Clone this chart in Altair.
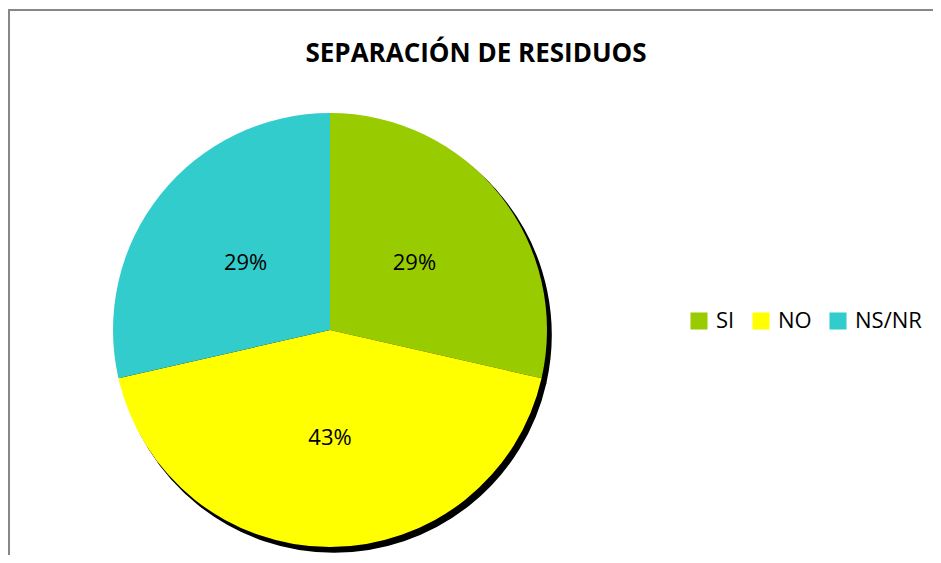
import altair as alt
import pandas as pd

title_text = "SEPARACIÓN DE RESIDUOS"
categories = ["SI", "NO", "NS/NR"]
counts = [2, 3, 2]
pct_labels = ["29%", "43%", "29%"]
colors = ["#99CC00", "#FFFF00", "#33CCCC"]

df = pd.DataFrame({"cat": categories, "val": counts, "lab": pct_labels,
                   "ord": list(range(len(categories)))})

CX, CY, R = 322, 322, 217
FONT = "Open Sans"

base = alt.Chart(df)
theta = alt.Theta("val:Q", stack=True)
order = alt.Order("ord:Q")

border = alt.Chart(pd.DataFrame({"a": [0]})).mark_rect(
    fill="white", stroke="#878787", strokeWidth=2
).encode(x=alt.value(1), y=alt.value(2), x2=alt.value(1200), y2=alt.value(1200))

shadow = base.mark_arc(outerRadius=R, color="black", stroke="black", strokeWidth=1.5).encode(
    theta=theta, order=order, x=alt.value(CX + 4), y=alt.value(CY + 5)
)

pie = base.mark_arc(outerRadius=R).encode(
    theta=theta, order=order, x=alt.value(CX), y=alt.value(CY),
    color=alt.Color(
        "cat:N", sort=categories,
        scale=alt.Scale(domain=categories, range=colors),
        legend=alt.Legend(
            orient="none", legendX=680, legendY=302, direction="horizontal",
            title=None, symbolType="square", symbolSize=290, symbolStrokeWidth=0,
            labelFontSize=22, labelFont=FONT, labelColor="black", labelOffset=6,
            columnPadding=15, padding=0,
        ),
    ),
)

labels = base.mark_text(radius=108, fontSize=22, font=FONT, color="black").encode(
    theta=theta, order=order, text="lab:N", x=alt.value(CX), y=alt.value(CY)
)

title = alt.Chart(pd.DataFrame({"t": [title_text]})).mark_text(
    fontSize=26, font=FONT, fontWeight="bold", color="black"
).encode(text="t:N", x=alt.value(468), y=alt.value(46))

chart = alt.layer(border, shadow, pie, labels, title).properties(
    width=925, height=547, padding=0, autosize=alt.AutoSizeParams(type="none"),
    background="white",
).configure_view(stroke=None)

chart.save("out.html", embed_options={"renderer": "svg", "actions": False})
